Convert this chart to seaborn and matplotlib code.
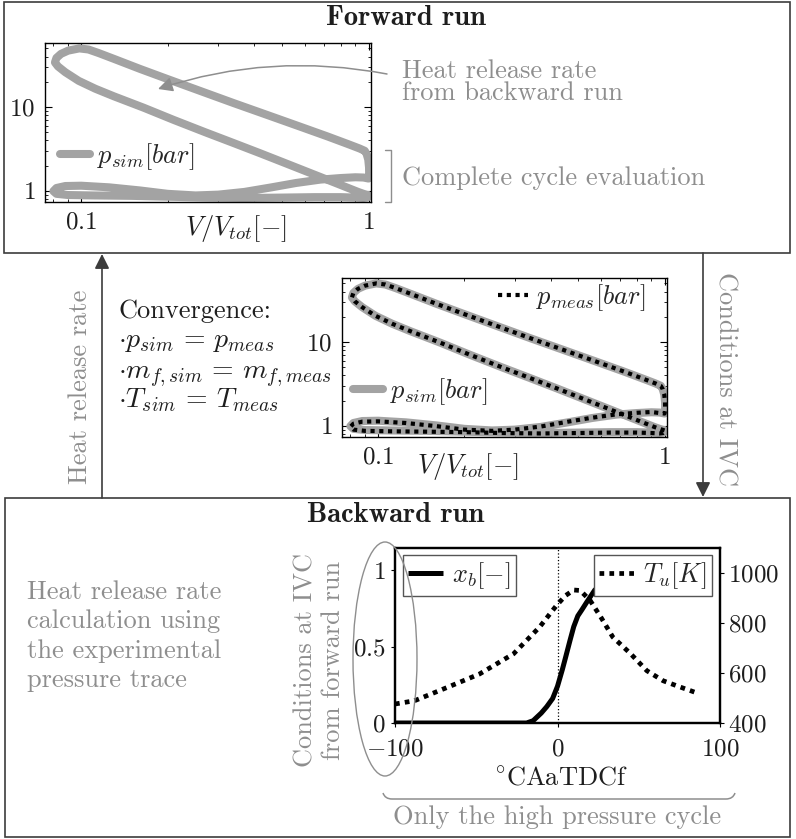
import matplotlib
matplotlib.use("Agg")
import matplotlib.pyplot as plt
import numpy as np
import pandas as pd
import seaborn as sns
from matplotlib.patches import Ellipse, FancyArrowPatch, PathPatch, Rectangle
from matplotlib.path import Path
from matplotlib.lines import Line2D
from matplotlib.ticker import FixedLocator, FixedFormatter, NullFormatter, LogLocator

# ---------------- engine cycle in the p-V plane ----------------
# volume normalised by total cylinder volume [-], pressure [bar]
compression_V = [1.00, 0.97, 0.92, 0.85, 0.75, 0.63, 0.52, 0.42, 0.34, 0.27,
                 0.21, 0.165, 0.13, 0.112, 0.098, 0.088, 0.083, 0.081]
compression_p = [0.88, 0.91, 0.97, 1.08, 1.28, 1.62, 2.10, 2.80, 3.70, 5.00,
                 7.00, 9.80, 13.4, 16.5, 20.5, 26.0, 30.5, 34.0]
combustion_V = [0.082, 0.085, 0.090, 0.0985, 0.106]
combustion_p = [38.5, 43.0, 47.0, 50.0, 48.5]
expansion_V = [0.115, 0.13, 0.16, 0.20, 0.26, 0.34, 0.45, 0.58, 0.72, 0.85, 0.93, 0.97]
expansion_p = [44.0, 37.5, 28.5, 21.5, 15.5, 11.1, 7.9, 5.8, 4.45, 3.6, 3.2, 3.0]
blowdown_V = [0.985, 0.998, 1.004, 1.005, 1.00]
blowdown_p = [2.75, 2.35, 1.90, 1.55, 1.40]
exhaust_V = [0.96, 0.90, 0.80, 0.68, 0.56, 0.46, 0.37, 0.30, 0.25, 0.20, 0.16,
             0.125, 0.10, 0.088, 0.082, 0.080, 0.082, 0.090]
exhaust_p_sim = [1.44, 1.45, 1.42, 1.36, 1.24, 1.10, 0.97, 0.90, 0.88, 0.92, 1.01,
                 1.10, 1.15, 1.14, 1.08, 0.99, 0.92, 0.89]
exhaust_p_meas = [1.42, 1.46, 1.43, 1.37, 1.25, 1.12, 0.98, 0.90, 0.87, 0.90, 0.99,
                  1.08, 1.13, 1.12, 1.06, 0.97, 0.90, 0.87]
intake_V = [0.11, 0.15, 0.20, 0.27, 0.37, 0.50, 0.65, 0.80, 0.90, 0.96, 0.99, 1.005, 1.00]
intake_p_sim = [0.88, 0.87, 0.85, 0.83, 0.82, 0.83, 0.84, 0.84, 0.83, 0.82, 0.83, 0.86, 0.88]
intake_p_meas = [0.86, 0.85, 0.84, 0.82, 0.81, 0.82, 0.83, 0.83, 0.82, 0.81, 0.82, 0.85, 0.88]

pv_xticks = [0.1, 1]
pv_xticklabels = ["$0.1$", "$1$"]
pv_yticks = [1, 10]
pv_yticklabels = ["$1$", "$10$"]

# ---------------- backward run: burnt fraction and unburnt temperature ----------------
ca_xb = [-100, -19, -15, -10, -6.6, -3, 0, 3, 5, 7.7, 10, 12.5, 15, 18, 23, 27, 32, 40, 55, 88]
xb = [0.0, 0.0, 0.015, 0.065, 0.107, 0.16, 0.24, 0.35, 0.43, 0.54, 0.63, 0.70, 0.74,
      0.79, 0.87, 0.90, 0.94, 0.98, 1.0, 1.0]
ca_tu = [-100, -88, -68, -48, -27, -11, -0.5, 5, 10, 14, 20, 27, 34, 45, 55, 65, 75, 85]
tu = [476, 489, 542, 596, 677, 784, 871, 910, 932, 930, 891, 820, 744, 677, 609, 569, 545, 522]

ca_ticks = [-100, 0, 100]
ca_ticklabels = ["$-100$", "$0$", "$100$"]
xb_ticks = [0, 0.5, 1]
xb_ticklabels = ["$0$", "$0.5$", "$1$"]
tu_ticks = [400, 600, 800, 1000]
tu_ticklabels = ["$400$", "$600$", "$800$", "$1000$"]

cycle = pd.DataFrame({
    "V": compression_V + combustion_V + expansion_V + blowdown_V + exhaust_V + intake_V,
    "p_sim": compression_p + combustion_p + expansion_p + blowdown_p + exhaust_p_sim + intake_p_sim,
    "p_meas": compression_p + combustion_p + expansion_p + blowdown_p + exhaust_p_meas + intake_p_meas,
})
burn = pd.DataFrame({"CA": ca_xb, "xb": xb})
unburnt = pd.DataFrame({"CA": ca_tu, "Tu": tu})

# ---------------- styling ----------------
sns.set_theme(style="white")
plt.rcParams["font.family"] = ["cmr10", "DejaVu Serif"]
plt.rcParams["mathtext.fontset"] = "cm"
plt.rcParams["axes.unicode_minus"] = False

GRAY_TXT = "#8e8e8e"
GRAY_LINE = "#a3a3a3"
BOX = "#3c3c3c"
INK = "#1e1e1e"
FS = 19
TICK_FS = 18
TITLE_FS = 20.5

W, H = 796, 839
fig = plt.figure(figsize=(W / 100, H / 100), dpi=100)
fig.patch.set_facecolor("white")


def fx(x):
    return x / W


def fy(y):
    return 1 - y / H


def rect(l, t, r, b):
    return [l / W, 1 - b / H, (r - l) / W, (b - t) / H]


def ftext(x, y, s, **kw):
    kw.setdefault("fontsize", FS)
    kw.setdefault("color", INK)
    fig.text(fx(x), fy(y), s, transform=fig.transFigure, **kw)


def style_pv(ax):
    ax.set_xscale("log")
    ax.set_yscale("log")
    ax.set_xlim(0.0748, 1.02)
    ax.set_ylim(0.735, 58)
    ax.xaxis.set_major_locator(FixedLocator(pv_xticks))
    ax.xaxis.set_major_formatter(FixedFormatter(pv_xticklabels))
    ax.yaxis.set_major_locator(FixedLocator(pv_yticks))
    ax.yaxis.set_major_formatter(FixedFormatter(pv_yticklabels))
    ax.xaxis.set_minor_locator(LogLocator(base=10, subs=np.arange(2, 10)))
    ax.yaxis.set_minor_locator(LogLocator(base=10, subs=np.arange(2, 10)))
    ax.xaxis.set_minor_formatter(NullFormatter())
    ax.yaxis.set_minor_formatter(NullFormatter())
    ax.tick_params(which="both", direction="in", top=True, right=True, bottom=True, left=True,
                   color="black")
    ax.tick_params(which="major", length=5, width=0.8, labelsize=TICK_FS, labelcolor=INK, pad=7)
    ax.tick_params(which="minor", length=2.5, width=0.6)
    for s in ax.spines.values():
        s.set_color("black")
        s.set_linewidth(1.0)
    ax.set_ylabel("")


# ---------------- frames and connecting arrows ----------------
fig.add_artist(Rectangle((fx(4), fy(253)), 786 / W, 251 / H, transform=fig.transFigure,
                         fill=False, ec=BOX, lw=1.2))
fig.add_artist(Rectangle((fx(5), fy(837)), 785 / W, 339 / H, transform=fig.transFigure,
                         fill=False, ec=BOX, lw=1.2))
fig.add_artist(FancyArrowPatch((fx(102), fy(498)), (fx(102), fy(254)), transform=fig.transFigure,
                               arrowstyle="-|>", mutation_scale=22, color=BOX, lw=1.2,
                               shrinkA=0, shrinkB=0))
fig.add_artist(FancyArrowPatch((fx(703), fy(253)), (fx(703), fy(497)), transform=fig.transFigure,
                               arrowstyle="-|>", mutation_scale=22, color=BOX, lw=1.2,
                               shrinkA=0, shrinkB=0))

# ---------------- forward run ----------------
ax1 = fig.add_axes(rect(45, 43, 371, 202))
sns.lineplot(data=cycle, x="V", y="p_sim", sort=False, estimator=None, ax=ax1,
             color=GRAY_LINE, lw=5.8, solid_joinstyle="round", solid_capstyle="round",
             label="$p_{sim}[bar]$")
style_pv(ax1)
ax1.set_xlabel("$V/V_{tot}[-]$", fontsize=FS, color=INK)
ax1.xaxis.set_label_coords(0.586, -0.165)
ax1.xaxis.label.set_va("center")
ax1.legend(loc="center left", bbox_to_anchor=(0.045, 0.283), frameon=False, fontsize=FS,
           borderpad=0, borderaxespad=0, handlelength=1.15, handletextpad=0.25)

ftext(406, 25, "Forward run", ha="center", va="baseline", fontsize=TITLE_FS,
      family=["cmb10", "DejaVu Serif"])
ftext(402, 59, "Heat release rate\nfrom backward run", ha="left", va="top",
      color=GRAY_TXT, linespacing=0.92)
ftext(402, 185, "Complete cycle evaluation", ha="left", va="baseline", color=GRAY_TXT)
fig.add_artist(Line2D([fx(385), fx(391), fx(391), fx(385)], [fy(150), fy(150), fy(202), fy(202)],
                      transform=fig.transFigure, color=GRAY_TXT, lw=1.0))
fig.add_artist(FancyArrowPatch((fx(387), fy(74)), (fx(158), fy(89)), transform=fig.transFigure,
                               connectionstyle="arc3,rad=0.13", arrowstyle="-|>",
                               mutation_scale=22, color=GRAY_TXT, lw=1.1,
                               shrinkA=0, shrinkB=0))

# ---------------- convergence check ----------------
ax2 = fig.add_axes(rect(342, 278, 667, 437))
sns.lineplot(data=cycle, x="V", y="p_sim", sort=False, estimator=None, ax=ax2,
             color=GRAY_LINE, lw=5.8, solid_joinstyle="round", solid_capstyle="round",
             label="$p_{sim}[bar]$")
sns.lineplot(data=cycle, x="V", y="p_meas", sort=False, estimator=None, ax=ax2,
             color="black", lw=3.0, linestyle=(0, (1, 1.1)), label="$p_{meas}[bar]$")
style_pv(ax2)
ax2.set_xlabel("$V/V_{tot}[-]$", fontsize=FS, color=INK)
ax2.xaxis.set_label_coords(0.388, -0.185)
ax2.xaxis.label.set_va("center")
h2, l2 = ax2.get_legend_handles_labels()
leg_sim = ax2.legend([h2[0]], [l2[0]], loc="center left", bbox_to_anchor=(0.034, 0.283),
                     frameon=False, fontsize=FS, borderpad=0, borderaxespad=0,
                     handlelength=1.15, handletextpad=0.25)
ax2.add_artist(leg_sim)
ax2.legend([h2[1]], [l2[1]], loc="center right", bbox_to_anchor=(0.935, 0.874),
           frameon=False, fontsize=FS, borderpad=0, borderaxespad=0,
           handlelength=1.15, handletextpad=0.3)

ftext(118, 318, "Convergence:", ha="left", va="baseline")
ftext(118, 347, r"$\cdot p_{sim}\,=\,p_{meas}$", ha="left", va="baseline", fontsize=20)
ftext(118, 378, r"$\cdot m_{f,sim}\,=\,m_{f,meas}$", ha="left", va="baseline", fontsize=20)
ftext(118, 407, r"$\cdot T_{sim}\,=\,T_{meas}$", ha="left", va="baseline", fontsize=20)
ftext(80, 387, "Heat release rate", ha="center", va="center", rotation=90, color=GRAY_TXT)
ftext(725, 379, "Conditions at IVC", ha="center", va="center", rotation=-90, color=GRAY_TXT)

# ---------------- backward run ----------------
ax3 = fig.add_axes(rect(395, 548, 720, 723))
ax3.axvline(0, color="black", ls=":", lw=0.9)
sns.lineplot(data=burn, x="CA", y="xb", sort=False, estimator=None, ax=ax3,
             color="black", lw=3.6, solid_capstyle="butt", label="$x_b[-]$")
ax3.set_xlim(-100, 100)
ax3.set_ylim(0, 1.144)
ax3.xaxis.set_major_locator(FixedLocator(ca_ticks))
ax3.xaxis.set_major_formatter(FixedFormatter(ca_ticklabels))
ax3.yaxis.set_major_locator(FixedLocator(xb_ticks))
ax3.yaxis.set_major_formatter(FixedFormatter(xb_ticklabels))
ax3.set_xlabel(r"$^{\circ}\mathrm{CAaTDCf}$", fontsize=FS, color=INK)
ax3.xaxis.set_label_coords(0.511, -0.315)
ax3.xaxis.label.set_va("center")
ax3.set_ylabel("")
ax3.tick_params(axis="both", direction="out", length=3, width=0.8, color="black",
                labelsize=TICK_FS, labelcolor=INK, pad=4, bottom=True, left=True)
ax3.tick_params(axis="x", pad=8)
ax3.legend(loc="upper left", bbox_to_anchor=(0.025, 0.96), borderaxespad=0, fontsize=FS,
           frameon=True, fancybox=False, framealpha=1, edgecolor="#555555",
           borderpad=0.2, handlelength=1.3, handletextpad=0.35)
ax3.get_legend().get_frame().set_linewidth(1.0)

ax4 = ax3.twinx()
sns.lineplot(data=unburnt, x="CA", y="Tu", sort=False, estimator=None, ax=ax4,
             color="black", lw=3.4, linestyle=(0, (1, 1.1)), label="$T_u[K]$")
ax4.set_ylim(400, 1100)
ax4.yaxis.set_major_locator(FixedLocator(tu_ticks))
ax4.yaxis.set_major_formatter(FixedFormatter(tu_ticklabels))
ax4.set_ylabel("")
ax4.tick_params(axis="y", direction="out", length=3, width=0.8, color="black",
                labelsize=TICK_FS, labelcolor=INK, pad=3)
ax4.legend(loc="upper right", bbox_to_anchor=(0.974, 0.96), borderaxespad=0, fontsize=FS,
           frameon=True, fancybox=False, framealpha=1, edgecolor="#555555",
           borderpad=0.2, handlelength=1.3, handletextpad=0.35)
ax4.get_legend().get_frame().set_linewidth(1.0)
for a in (ax3, ax4):
    for s in a.spines.values():
        s.set_color("black")
        s.set_linewidth(1.6)

ftext(396, 522, "Backward run", ha="center", va="baseline", fontsize=TITLE_FS,
      family=["cmb10", "DejaVu Serif"])
ftext(27, 636, "Heat release rate\ncalculation using\nthe experimental\npressure trace",
      ha="left", va="center", color=GRAY_TXT, linespacing=1.3)
ftext(319, 660, "Conditions at IVC\nfrom forward run", ha="center", va="center",
      rotation=90, color=GRAY_TXT, multialignment="center", linespacing=1.2)
fig.add_artist(Ellipse((fx(385), fy(659)), 64 / W, 234 / H, transform=fig.transFigure,
                       fill=False, ec=GRAY_TXT, lw=1.0))
brace = Path([(fx(383), fy(793)), (fx(385), fy(799)), (fx(392), fy(799)),
              (fx(726), fy(799)), (fx(733), fy(799)), (fx(735), fy(793))],
             [Path.MOVETO, Path.CURVE3, Path.CURVE3, Path.LINETO, Path.CURVE3, Path.CURVE3])
fig.add_artist(PathPatch(brace, transform=fig.transFigure, fill=False, ec=GRAY_TXT, lw=1.1))
ftext(557, 824, "Only the high pressure cycle", ha="center", va="baseline", color=GRAY_TXT)

fig.savefig("out.png", dpi=100, facecolor="white")
